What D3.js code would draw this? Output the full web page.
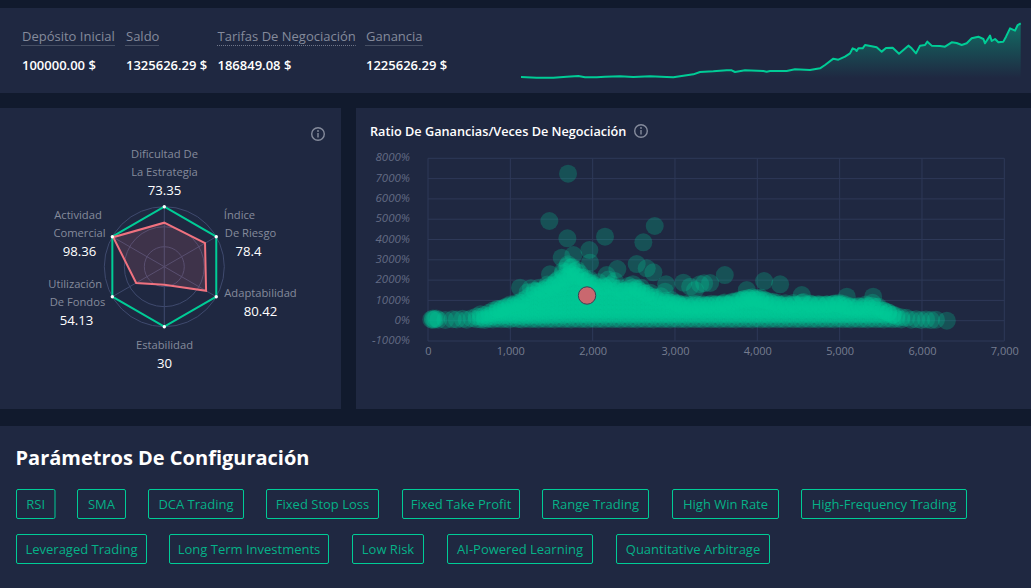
<!DOCTYPE html>
<html>
<head>
<meta charset="utf-8">
<script src="https://cdn.jsdelivr.net/npm/d3@7"></script>
<style>
  html, body { margin: 0; padding: 0; background: #111a2d; overflow: hidden; }
  text { font-family: "Open Sans", "Noto Sans", sans-serif; }
</style>
</head>
<body>
<div id="chart"></div>
<script>
// summary row
var statLabels = ["Depósito Inicial", "Saldo", "Tarifas De Negociación", "Ganancia"];
var statValues = ["100000.00 $", "1325626.29 $", "186849.08 $", "1225626.29 $"];

// balance curve, thousands of $
var sparkStep = [0,47,97,137,172,192,227,252,297,337,387,437,457,487,517,537,577,617,632,642,672,727,737,747,797,822,867,897,912,937,952,972,987,995,1002,1007,1012,1025,1032,1052,1067,1082,1095,1115,1134,1162,1172,1185,1197,1212,1219,1232,1257,1272,1292,1307,1322,1337,1352,1372,1387,1392,1407,1412,1422,1432,1447,1455,1467,1482,1490,1499];
var sparkBalance = [100,85,85,108,123,92,92,108,115,100,115,100,92,130,161,214,229,252,252,214,252,237,222,237,237,275,260,298,374,519,496,564,640,755,732,694,755,755,831,800,777,679,762,770,633,816,755,640,816,831,907,816,808,793,892,876,831,869,983,1021,968,869,1044,922,968,892,907,1021,1211,1158,1287,1326];

// radar
var radarLabels = [["Dificultad De", "La Estrategia"], ["Índice", "De Riesgo"], ["Adaptabilidad"], ["Estabilidad"], ["Utilización", "De Fondos"], ["Actividad", "Comercial"]];
var radarValues = [73.35, 78.4, 80.42, 30, 54.13, 98.36];
var radarMax = [100, 100, 100, 100, 100, 100];
var radarRings = [33.3, 66.6, 100];

// scatter: the points that stand clear of the cloud [trades, return %]
var loosePoints = [[1701,7242],[1474,4911],[1693,4058],[2150,4138],[2754,4665],[2616,3861],[1960,3483],[1624,3104],[1766,3236],[1968,2858],[2535,2792],[2657,2580],[2738,2382],[2300,2545],[2171,2250],[1482,2284],[1118,1626],[2892,1793],[2880,1429],[3102,1873],[3244,1512],[3305,1800],[3605,2250],[4083,1955],[4277,1793],[3354,1842],[3427,1857],[3184,1675],[3872,1512],[4540,1266],[5087,1182],[5407,1182],[6302,0]];
// the dense cloud, estimated column by column: [trades, return %, return %, ...]
var cloudColumns = [
[40,60],[60,110,40],[80,70],[100,110],[125,50],[210,40],[300,70],[350,60],[420,90],[470,50],[530,120],[590,210,70],
[640,60,190,320],[690,120,280,40],[740,90,230,390],[790,60,210,360,500],[840,110,270,430,580],[890,70,240,400,560],[940,100,280,460,640],[990,60,230,410,590,720],[1040,120,300,470,650,760],[1090,80,250,440,610,780],
[1140,60,220,400,580,760,880],[1190,110,290,470,660,850,1080],[1240,70,250,430,620,810,1000,1240],[1290,100,290,480,670,860,1060,1270,1480],[1340,60,240,430,630,830,1030,1240,1450],[1390,110,300,500,700,900,1110,1320,1520],[1440,70,260,460,670,880,1090,1300,1500,1620],[1490,100,300,510,720,930,1140,1350,1560,1740],[1540,60,270,480,690,900,1120,1340,1560,1780,1880],[1590,110,320,530,750,970,1190,1410,1630,1850,2060],[1640,70,280,500,720,950,1180,1410,1640,1870,2100,2340],[1690,100,320,550,780,1010,1240,1470,1700,1940,2180,2420,2680],[1740,60,290,520,750,980,1210,1440,1680,1920,2160,2400,2620],[1790,110,340,570,800,1030,1260,1490,1730,1970,2210,2440],[1840,70,300,530,760,990,1220,1450,1680,1910,2140,2350],[1890,100,330,560,790,1020,1250,1480,1710,1940,2130],[1940,60,290,520,750,980,1210,1440,1670,1900,2000],[1990,110,340,570,800,1030,1260,1490,1720,1840],
[2040,70,300,530,760,990,1220,1450,1660],[2090,100,330,560,790,1020,1250,1480,1600],[2140,60,290,520,750,980,1210,1440,1640],[2190,110,340,570,800,1030,1260,1490,1720],[2240,70,300,530,760,990,1220,1450,1660],[2290,100,330,560,790,1020,1250,1470,1580],[2340,60,290,520,750,980,1210,1420],[2390,110,340,570,800,1030,1260,1470],[2440,70,300,530,760,990,1220,1450,1560],[2490,100,330,560,790,1020,1250,1480,1640],[2540,60,290,520,750,980,1210,1440,1600],[2590,110,340,570,800,1030,1260,1430],[2640,70,300,530,760,990,1220,1340],[2690,100,330,560,790,1020,1230],[2740,60,290,520,750,980,1160],[2790,110,340,570,800,1020],[2840,70,300,530,760,960],[2890,100,330,560,790,900],[2940,60,290,520,750,880],[2990,110,340,570,780,890],
[3040,70,300,530,760,860],[3090,100,330,560,800],[3140,60,290,520,750,820],[3190,110,340,570,790],[3240,70,300,530,760,840],[3290,100,330,560,780],[3340,60,290,520,750,810],[3390,110,340,570,790],[3440,70,300,530,760,830],[3490,100,330,560,780],[3540,60,290,520,750,800],[3590,110,340,570,790,850],[3640,70,300,530,760,820],[3690,100,330,560,780,900],[3740,60,290,520,750,960],[3790,110,340,570,800,1000],[3840,70,300,530,760,990,1070],[3890,100,330,560,790,1010,1120],[3940,60,290,520,750,980,1150],[3990,110,340,570,800,1030,1120],[4040,70,300,530,760,990,1130],[4090,100,330,560,790,1020],[4140,60,290,520,750,960],[4190,110,340,570,800,930],[4240,70,300,530,760,880],[4290,100,330,560,790],[4340,60,290,520,750,860],[4390,110,340,570,800],[4440,70,300,530,760,870],[4490,100,330,560,790],[4540,60,290,520,750,880],[4590,110,340,570,800],[4640,70,300,530,760,850],[4690,100,330,560,790],[4740,60,290,520,750,820],[4790,110,340,570,790],[4840,70,300,530,760,810],[4890,100,330,560,790],[4940,60,290,520,750,850],[4990,110,340,570,800,880],[5040,70,300,530,760,840],[5090,100,330,560,760],[5140,60,290,520,700],[5190,110,340,570,680],[5240,70,300,530,690],[5290,100,330,560,700],[5340,60,290,520,720],[5390,110,340,570,740],[5440,70,300,530,690],[5490,100,330,530],[5540,60,290,480],[5590,110,340,420],[5640,70,280],[5690,100,230],[5750,60,170],[5810,140],[5870,50],[5930,70],[5990,40],[6050,60],[6110,30],[6170,50]
];
// points along the uneven top edge of the cloud, same layout
var crestColumns = [
[850,560],[900,610],[950,700],[1000,800],[1060,860],[1110,900],[1150,1000],[1210,1400],[1250,1600],[1300,1450],[1350,1620],[1400,1500],[1450,1780],[1510,1650],[1560,1950],[1610,1750],[1640,2450],[1670,2050],[1700,2780],[1725,2300],[1750,2650],[1790,2200],[1810,2500],[1860,2150],[1910,1950],[1960,2050],[2020,1750],[2070,1900],[2130,1700],[2190,2030],[2230,1800],[2270,1950],[2330,1600],[2380,1450],[2440,1720],[2490,1800],[2540,1550],[2590,1620],[2650,1350],[2700,1380],[2760,1150],[2830,1200],[2900,1000],[2960,1020],[3030,850],[3090,700],
[3200,680],[3300,690],[3400,750],[3500,820],[3600,900],[3700,950],[3780,1020],[3830,1060],[3900,1100],[3960,1080],[4030,1060],[4100,980],[4180,860],[4260,780],[4360,720],[4450,800],[4560,920],[4650,820],[4750,780],[4850,800],[4920,830],[4980,820],[5060,700],[5130,670],[5230,720],[5320,800],[5400,880],[5470,700],[5530,520],[5590,400],[5650,300]
];
var currentPoint = [1932, 1241];

var xTicks = [0, 1000, 2000, 3000, 4000, 5000, 6000, 7000];
var yTicks = [-1000, 0, 1000, 2000, 3000, 4000, 5000, 6000, 7000, 8000];

// tags
var tagRows = [
  ["RSI", "SMA", "DCA Trading", "Fixed Stop Loss", "Fixed Take Profit", "Range Trading", "High Win Rate", "High-Frequency Trading"],
  ["Leveraged Trading", "Long Term Investments", "Low Risk", "AI-Powered Learning", "Quantitative Arbitrage"]
];
var tagLefts = [[16.5, 77.5, 148.5, 266.5, 402.5, 542.5, 672.5, 801.5], [16.5, 169.5, 352.5, 447.5, 616.5]];
var tagWidths = [[38.5, 48, 95, 112, 117, 106, 106, 165], [130, 159, 71, 145, 153]];

var green = "#00cc96", red = "#f0727f", card = "#1f2841";

var svg = d3.select("#chart").append("svg")
  .attr("width", 1031)
  .attr("height", 588)
  .style("display", "block");

svg.append("rect").attr("width", 1031).attr("height", 588).attr("fill", "#111a2d");

// panels
[[0, 8, 1031, 85], [0, 108, 341, 301], [356, 108, 675, 301], [0, 426, 1031, 162]].forEach(function(p) {
  svg.append("rect").attr("x", p[0]).attr("y", p[1]).attr("width", p[2]).attr("height", p[3]).attr("fill", card);
});

// summary row
var statX = [22, 126, 217.5, 366];
statLabels.forEach(function(label, i) {
  var t = svg.append("text")
    .attr("x", statX[i]).attr("y", 41)
    .attr("fill", "#858b9c")
    .style("font-size", "13px")
    .text(label);
  svg.append("line")
    .attr("x1", statX[i] - 0.5).attr("x2", statX[i] + t.node().getComputedTextLength())
    .attr("y1", 45.5).attr("y2", 45.5)
    .attr("stroke", "#6f7689")
    .attr("stroke-dasharray", "1,1");
  svg.append("text")
    .attr("x", statX[i]).attr("y", 70)
    .attr("fill", "#fff")
    .style("font-size", "13px")
    .style("font-weight", 600)
    .text(statValues[i]);
});

// sparkline
var sparkX = d3.scaleLinear().domain([0, 1499]).range([521, 1020.7]);
var sparkY = d3.scaleLinear().domain([100, 1326]).range([77, 23.3]);
var sparkData = d3.zip(sparkStep, sparkBalance);

var defs = svg.append("defs");
var grad = defs.append("linearGradient").attr("id", "sparkFill")
  .attr("gradientUnits", "userSpaceOnUse")
  .attr("x1", 0).attr("x2", 0).attr("y1", 23).attr("y2", 78);
grad.append("stop").attr("offset", "0%").attr("stop-color", green).attr("stop-opacity", 0.42);
grad.append("stop").attr("offset", "100%").attr("stop-color", green).attr("stop-opacity", 0);

svg.append("path").datum(sparkData)
  .attr("fill", "url(#sparkFill)")
  .attr("d", d3.area()
    .x(function(d) { return sparkX(d[0]); })
    .y0(78)
    .y1(function(d) { return sparkY(d[1]); }));
svg.append("path").datum(sparkData)
  .attr("fill", "none")
  .attr("stroke", green)
  .attr("stroke-width", 2)
  .attr("stroke-linejoin", "round")
  .attr("d", d3.line()
    .x(function(d) { return sparkX(d[0]); })
    .y(function(d) { return sparkY(d[1]); }));

// info icons
function infoIcon(x, y) {
  var g = svg.append("g").attr("transform", "translate(" + x + "," + y + ")");
  g.append("circle").attr("r", 6.3).attr("fill", "none").attr("stroke", "#858b9c").attr("stroke-width", 1.4);
  g.append("line").attr("y1", -1).attr("y2", 3.4).attr("stroke", "#858b9c").attr("stroke-width", 1.4);
  g.append("circle").attr("cy", -3).attr("r", 0.9).attr("fill", "#858b9c");
}
infoIcon(318, 134);
infoIcon(641, 131);

// radar
var cx = 164.3, cy = 266.7;
var rScale = d3.scaleLinear().domain([0, 100]).range([0, 60]);
var radar = svg.append("g").attr("transform", "translate(" + cx + "," + cy + ")");
var angle = function(i) { return i * Math.PI / 3; };

radar.selectAll(".ring").data(radarRings).enter().append("circle")
  .attr("class", "ring")
  .attr("r", function(d) { return rScale(d); })
  .attr("fill", "none")
  .attr("stroke", "#3f4a6e")
  .attr("stroke-width", 1);

radar.selectAll(".spoke").data(radarMax).enter().append("line")
  .attr("class", "spoke")
  .attr("x2", function(d, i) { return rScale(d) * Math.sin(angle(i)); })
  .attr("y2", function(d, i) { return -rScale(d) * Math.cos(angle(i)); })
  .attr("stroke", "#3f4a6e");

var radial = d3.lineRadial()
  .angle(function(d, i) { return angle(i); })
  .radius(function(d) { return rScale(d); })
  .curve(d3.curveLinearClosed);

radar.append("path").datum(radarMax)
  .attr("d", radial).attr("fill", "none").attr("stroke", green).attr("stroke-width", 2);
radar.append("path").datum(radarValues)
  .attr("d", radial).attr("fill", red).attr("fill-opacity", 0.15).attr("stroke", red).attr("stroke-width", 2);

radar.selectAll(".dot").data(radarMax).enter().append("circle")
  .attr("class", "dot")
  .attr("cx", function(d, i) { return rScale(d) * Math.sin(angle(i)); })
  .attr("cy", function(d, i) { return -rScale(d) * Math.cos(angle(i)); })
  .attr("r", 1.7)
  .attr("fill", "#fff");

// label blocks: first baseline, value centre, and the centre x of each line
var radarLabelBase = [158, 219, 297, 349, 288, 219];
var radarValueX = [164.5, 248.5, 260.5, 164.5, 76.5, 79.5];
var radarLineX = [[164.5, 164.5], [239.5, 250.5], [260.5], [164.5], [75.2, 77.5], [78, 79.5]];
radarLabels.forEach(function(lines, i) {
  lines.forEach(function(line, j) {
    svg.append("text")
      .attr("x", radarLineX[i][j])
      .attr("y", radarLabelBase[i] + j * 18)
      .attr("text-anchor", "middle")
      .attr("fill", "#858b9c")
      .style("font-size", "11.2px")
      .text(line);
  });
  svg.append("text")
    .attr("x", radarValueX[i])
    .attr("y", radarLabelBase[i] + lines.length * 18 + 1)
    .attr("text-anchor", "middle")
    .attr("fill", "#fff")
    .style("font-size", "13.2px")
    .text(radarValues[i]);
});

// scatter
svg.append("text")
  .attr("x", 370).attr("y", 136)
  .attr("fill", "#fff")
  .style("font-size", "12.7px")
  .style("font-weight", 600)
  .text("Ratio De Ganancias/Veces De Negociación");

var margin = {top: 158.3, right: 26.7, bottom: 247, left: 428};
var width = 1031 - margin.left - margin.right;
var height = 588 - margin.top - margin.bottom;
var xScale = d3.scaleLinear().domain([0, 7000]).range([0, width]);
var yScale = d3.scaleLinear().domain([-1000, 8000]).range([height, 0]);

var plot = svg.append("g").attr("transform", "translate(" + margin.left + "," + margin.top + ")");

plot.selectAll(".gx").data(xTicks).enter().append("line")
  .attr("class", "gx")
  .attr("x1", xScale).attr("x2", xScale)
  .attr("y1", 0).attr("y2", height)
  .attr("stroke", "#2e3958");
plot.selectAll(".gy").data(yTicks).enter().append("line")
  .attr("class", "gy")
  .attr("y1", yScale).attr("y2", yScale)
  .attr("x1", 0).attr("x2", width)
  .attr("stroke", "#2e3958");

var xAxis = plot.append("g")
  .attr("transform", "translate(0," + height + ")")
  .call(d3.axisBottom(xScale).tickValues(xTicks).tickFormat(d3.format(",")).tickSize(0).tickPadding(6));
var yAxis = plot.append("g")
  .attr("transform", "translate(-18,-1)")
  .call(d3.axisLeft(yScale).tickValues(yTicks).tickFormat(function(d) { return d + "%"; }).tickSize(0).tickPadding(0));
xAxis.select(".domain").remove();
yAxis.select(".domain").remove();
xAxis.selectAll("text").attr("fill", "#767d90").style("font-size", "11px");
yAxis.selectAll("text").attr("fill", "#636b84").style("font-size", "11.5px").style("font-style", "italic");

var cloudPoints = [];
cloudColumns.concat(crestColumns).forEach(function(col) {
  col.slice(1).forEach(function(y) { cloudPoints.push([col[0], y]); });
});
var points = loosePoints.concat(cloudPoints);

plot.selectAll(".pt").data(points).enter().append("circle")
  .attr("class", "pt")
  .attr("cx", function(d) { return xScale(d[0]); })
  .attr("cy", function(d) { return yScale(d[1]); })
  .attr("r", 9)
  .attr("fill", green)
  .attr("fill-opacity", 0.25);

plot.append("circle")
  .attr("cx", xScale(currentPoint[0]))
  .attr("cy", yScale(currentPoint[1]))
  .attr("r", 8.7)
  .attr("fill", "#c9686f")
  .attr("stroke", "#3b4054")
  .attr("stroke-width", 1);

// configuration tags
svg.append("text")
  .attr("x", 15.5).attr("y", 465)
  .attr("fill", "#fff")
  .style("font-size", "20px")
  .style("font-weight", 700)
  .text("Parámetros De Configuración");

tagRows.forEach(function(row, r) {
  row.forEach(function(tag, i) {
    var x = tagLefts[r][i];
    var w = tagWidths[r][i];
    var y = r === 0 ? 489.5 : 534.5;
    svg.append("rect")
      .attr("x", x).attr("y", y)
      .attr("width", w).attr("height", 29)
      .attr("rx", 1.5)
      .attr("fill", "none")
      .attr("stroke", green);
    svg.append("text")
      .attr("x", x + w / 2).attr("y", y + 19.5)
      .attr("text-anchor", "middle")
      .attr("fill", green)
      .attr("fill-opacity", 0.85)
      .style("font-size", "13px")
      .text(tag);
  });
});
</script>
</body>
</html>
